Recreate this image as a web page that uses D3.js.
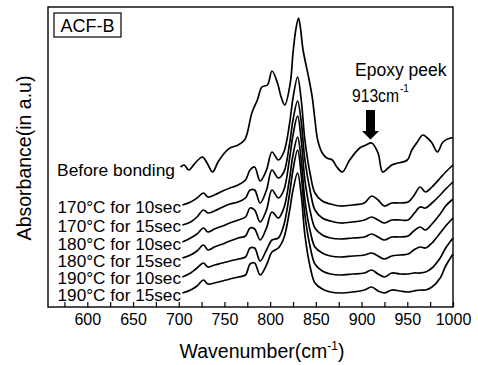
<!DOCTYPE html>
<html><head><meta charset="utf-8">
<script src="https://cdn.jsdelivr.net/npm/d3@7"></script>
<style>
body{margin:0;background:#fff;}
svg text{font-family:"Liberation Sans",Arial,sans-serif;fill:#000;}
</style></head>
<body><svg id="c" width="478" height="365"></svg>
<script>
// ---- data ----
const xTicks = [600, 650, 700, 750, 800, 850, 900, 950, 1000];
const xMinorTicks = [575, 625, 675, 725, 775, 825, 875, 925, 975];

const topWave = [702,706,711,718,726,731,737,743,750,756,765,772,775,780,786,791,797,802,808,812,816,822,825,828,831,833,836,842,846,849,852,857,862,868,873,879,887,898,905,911,918,923,929,933,940,950,955,961,967,972,977,983,989,997,1000];
const beforeBonding = [14.0,14.2,13.7,14.4,15.0,14.4,13.5,14.5,15.4,15.9,16.2,16.7,17.4,19.4,20.7,22.0,22.2,23.6,22.4,21.0,20.2,22.4,25.4,27.7,28.9,28.0,25.7,23.0,21.0,18.7,16.7,15.4,14.9,14.7,14.0,13.5,14.7,15.9,16.2,16.4,15.4,13.5,13.9,14.2,14.4,14.7,15.7,16.5,17.2,16.9,16.4,15.5,16.5,16.9,16.9];

const wave = [704,713,720,727,732,739,748,756,765,773,778,783,789,796,802,809,815,821,825,830,834,838,844,849,857,866,877,890,903,911,918,925,933,942,951,957,964,970,977,986,992,1000];
const s170_10 = [10.2,10.5,10.9,11.4,11.0,11.2,11.6,11.9,12.2,12.7,13.7,14.0,12.6,13.7,15.5,14.7,15.5,18.2,20.9,23.0,20.7,16.7,13.2,11.4,10.6,10.3,10.1,10.2,10.4,11.1,10.7,10.1,10.4,10.4,10.5,11.1,12.0,11.5,12.0,12.9,13.5,14.2];
const s170_15 = [8.2,8.5,9.0,9.7,9.4,9.6,10.0,10.3,10.5,10.9,11.7,11.7,10.4,11.7,13.7,12.9,13.5,16.2,18.7,20.6,18.5,14.7,11.5,9.7,8.9,8.6,8.4,8.5,8.7,9.0,8.7,8.4,8.7,8.7,8.7,9.3,10.0,9.9,10.4,11.2,11.8,12.5];
const s180_10 = [6.5,6.9,7.3,7.9,7.5,7.8,8.1,8.4,8.7,9.0,9.9,9.7,8.5,9.7,11.7,10.9,11.7,14.7,17.2,19.1,16.7,12.7,9.5,7.9,7.2,6.9,6.8,6.9,7.0,7.3,7.0,6.7,7.0,7.0,7.1,7.6,8.0,7.7,8.3,9.3,10.1,10.8];
const s180_15 = [4.9,5.2,5.6,6.2,5.7,6.0,6.3,6.6,6.9,7.1,7.9,7.8,6.7,7.9,9.5,8.9,9.9,12.7,15.2,17.0,14.7,10.7,7.5,6.0,5.4,5.1,5.0,5.1,5.2,5.4,5.1,4.8,5.1,5.2,5.3,5.7,6.0,5.9,6.4,7.4,8.1,8.9];
const s190_10 = [3.0,3.4,3.9,4.4,4.0,4.2,4.4,4.6,4.8,5.0,5.9,5.9,4.6,5.7,6.7,6.9,8.2,11.2,13.7,15.7,13.2,9.2,5.9,4.3,3.6,3.3,3.2,3.3,3.4,3.7,3.3,3.0,3.4,3.3,3.3,3.4,3.4,3.5,3.9,4.9,5.9,6.9];
const s190_15 = [1.4,1.7,2.1,2.7,2.3,2.4,2.6,2.8,3.0,3.2,4.3,4.4,3.2,4.2,5.5,5.9,6.9,9.5,11.7,13.4,11.2,7.2,3.9,2.4,1.8,1.5,1.4,1.5,1.7,2.0,1.6,1.4,1.7,1.6,1.5,1.6,1.7,1.7,2.0,2.9,4.1,5.3];

const seriesLabels = ["170\u00B0C for 10sec","170\u00B0C for 15sec","180\u00B0C for 10sec","180\u00B0C for 15sec","190\u00B0C for 10sec","190\u00B0C for 15sec"];
const seriesValues = [s170_10, s170_15, s180_10, s180_15, s190_10, s190_15];
const labelValues = [9.4, 7.5, 5.7, 4.0, 2.3, 0.6]; // label baseline level

// ---- drawing ----
const svg = d3.select("#c");
const L = 48, R = 453, T = 7, B = 307;
const x = d3.scaleLinear().domain([557, 1000]).range([L, R]);
const y = d3.scaleLinear().domain([0, 30]).range([B, T]);

const line = d3.line().x(d => x(d[0])).y(d => y(d[1])).curve(d3.curveCatmullRom.alpha(0.5));

// frame
svg.append("rect").attr("x", L).attr("y", T).attr("width", R - L).attr("height", B - T)
  .attr("fill", "none").attr("stroke", "#000").attr("stroke-width", 1.4);

// x axis major
const ax = svg.append("g").attr("transform", `translate(0,${B})`)
  .call(d3.axisBottom(x).tickValues(xTicks).tickSize(-5).tickPadding(7).tickFormat(d3.format("d")));
ax.select(".domain").remove();
ax.selectAll("line").attr("stroke", "#000").attr("stroke-width", 1.2);
ax.selectAll("text").style("font-size", "16px").attr("font-family", null);
const axm = svg.append("g").attr("transform", `translate(0,${B})`)
  .call(d3.axisBottom(x).tickValues(xMinorTicks).tickSize(-5).tickFormat(""));
axm.select(".domain").remove();
axm.selectAll("line").attr("stroke", "#000").attr("stroke-width", 1.2);

// curves
svg.append("path").datum(topWave.map((w, i) => [w, beforeBonding[i]]))
  .attr("d", line).attr("fill", "none").attr("stroke", "#000").attr("stroke-width", 1.7);
seriesValues.forEach(vals => {
  svg.append("path").datum(wave.map((w, i) => [w, vals[i]]))
    .attr("d", line).attr("fill", "none").attr("stroke", "#000").attr("stroke-width", 1.7);
});

// series labels
svg.append("text").attr("x", 175).attr("y", 176).attr("text-anchor", "end")
  .style("font-size", "17.4px").text("Before bonding");
seriesLabels.forEach((t, i) => {
  svg.append("text").attr("x", 181).attr("y", y(labelValues[i])).attr("text-anchor", "end")
    .style("font-size", "17.2px").text(t);
});

// ACF-B box
svg.append("rect").attr("x", 54).attr("y", 13).attr("width", 67).attr("height", 24)
  .attr("fill", "#fff").attr("stroke", "#000").attr("stroke-width", 1.2);
svg.append("text").attr("x", 87.5).attr("y", 32).attr("text-anchor", "middle")
  .style("font-size", "18px").text("ACF-B");

// annotation
svg.append("text").attr("x", 355).attr("y", 76).style("font-size", "17.5px").text("Epoxy peek");
svg.append("text").attr("x", 352).attr("y", 102).style("font-size", "17.5px")
  .attr("textLength", 47).attr("lengthAdjust", "spacingAndGlyphs").text("913cm");
svg.append("text").attr("x", 400).attr("y", 92).style("font-size", "10px").text("-1");
svg.append("path")
  .attr("d", "M366,110 L375,110 L375,131 L379,131 L370.5,139.5 L362,131 L366,131 Z")
  .attr("fill", "#000");

// axis titles
const xt = svg.append("text").attr("x", 262).attr("y", 358).attr("text-anchor", "middle")
  .style("font-size", "19.5px");
xt.append("tspan").text("Wavenumber(cm");
xt.append("tspan").attr("dy", -8).style("font-size", "12px").text("-1");
xt.append("tspan").attr("dy", 8).text(")");

svg.append("text").attr("transform", "translate(31,158) rotate(-90)").attr("text-anchor", "middle")
  .style("font-size", "19.5px").text("Absorbance(in a.u)");
</script></body></html>
